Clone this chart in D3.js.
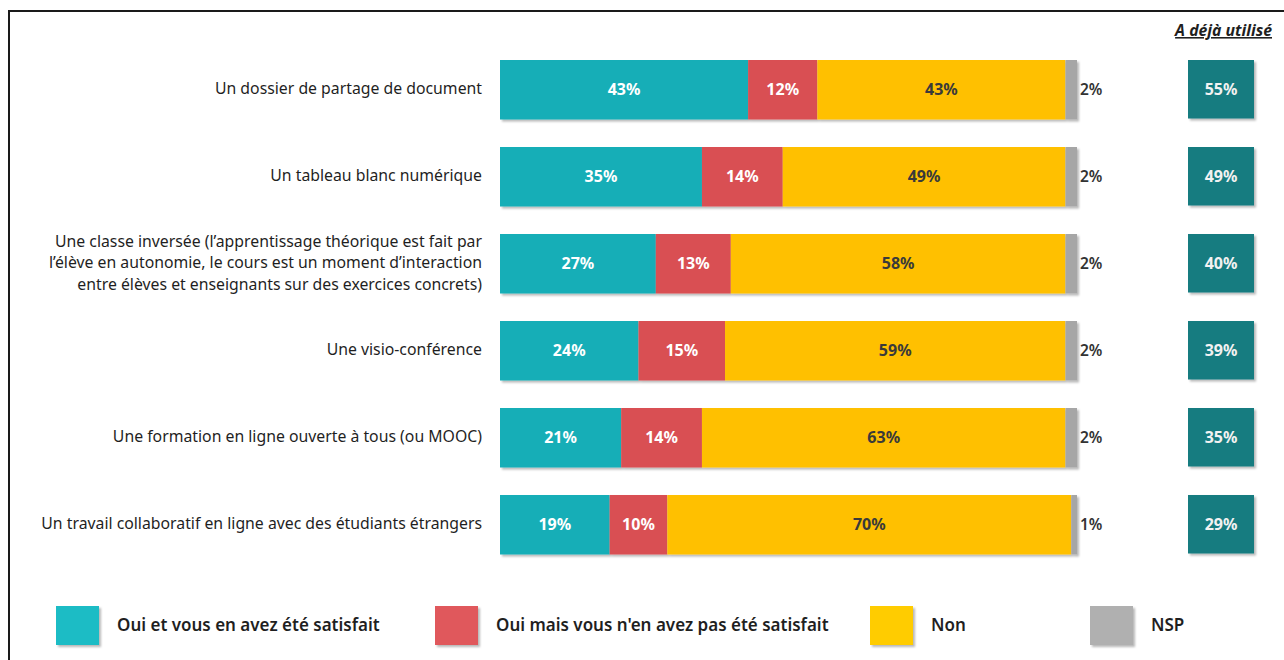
<!DOCTYPE html>
<html>
<head>
<meta charset="utf-8">
<script src="https://cdn.jsdelivr.net/npm/d3@7.8.5/dist/d3.min.js"></script>
<style>
  html, body { margin: 0; padding: 0; background: #fff; }
  svg { display: block; font-family: 'Noto Sans', 'Open Sans', sans-serif; }
</style>
</head>
<body>
<svg id="chart" width="1284" height="660"></svg>
<script>
const categories = [
  ['Un dossier de partage de document'],
  ['Un tableau blanc numérique'],
  ['Une classe inversée (l’apprentissage théorique est fait par',
   'l’élève en autonomie, le cours est un moment d’interaction',
   'entre élèves et enseignants sur des exercices concrets)'],
  ['Une visio-conférence'],
  ['Une formation en ligne ouverte à tous (ou MOOC)'],
  ['Un travail collaboratif en ligne avec des étudiants étrangers']
];
const satisfied   = [43, 35, 27, 24, 21, 19];
const unsatisfied = [12, 14, 13, 15, 14, 10];
const nonUsed     = [43, 49, 58, 59, 63, 70];
const nsp         = [2, 2, 2, 2, 2, 1];
const alreadyUsed = [55, 49, 40, 39, 35, 29];

const seriesNames = ['Oui et vous en avez été satisfait', "Oui mais vous n'en avez pas été satisfait", 'Non', 'NSP'];
const barColors = ['#14aeb7', '#d94f53', '#ffc000', '#a6a6a6'];
const legendColors = ['#1bbcc5', '#e0585b', '#ffcc00', '#b0b0b0'];
const labelColors = ['#ffffff', '#ffffff', '#3a3a3a', '#3a3a3a'];

const svg = d3.select('#chart');

// drop shadow used by bars and swatches
const defs = svg.append('defs');
defs.append('filter').attr('id', 'shadow')
  .attr('x', '-10%').attr('y', '-10%').attr('width', '130%').attr('height', '140%')
  .append('feDropShadow')
  .attr('dx', 2).attr('dy', 2).attr('stdDeviation', 1.2)
  .attr('flood-color', '#000').attr('flood-opacity', 0.28);

// frame
svg.append('path')
  .attr('d', 'M9,660 V11 H1284')
  .attr('fill', 'none')
  .attr('stroke', '#1a1a1a')
  .attr('stroke-width', 2);

const x = d3.scaleLinear().domain([0, 100]).range([500, 1077]);
const y = d3.scaleBand()
  .domain(d3.range(categories.length))
  .range([60, 554.5])
  .paddingInner(0.316)
  .paddingOuter(0);

const rows = categories.map((c, i) => {
  const vals = [satisfied[i], unsatisfied[i], nonUsed[i], nsp[i]];
  let acc = 0;
  const segs = vals.map((v, k) => {
    const s = { k, v, x0: acc, x1: acc + v };
    acc += v;
    return s;
  });
  return { i, label: c, segs };
});

const rowG = svg.selectAll('.row')
  .data(rows)
  .enter()
  .append('g')
  .attr('class', 'row')
  .attr('transform', d => `translate(0,${y(d.i)})`);

const bh = y.bandwidth();

// category labels
rowG.append('text')
  .attr('text-anchor', 'end')
  .attr('fill', '#1f1f1f')
  .style('font-size', '15.8px')
  .each(function(d) {
    const n = d.label.length;
    const lh = 21.5;
    d3.select(this).selectAll('tspan')
      .data(d.label)
      .enter()
      .append('tspan')
      .attr('x', 482)
      .attr('y', (t, j) => bh / 2 + (j - (n - 1) / 2) * lh - 1)
      .attr('dy', '0.35em')
      .text(t => t);
  });

// stacked bars
const barG = rowG.append('g').attr('filter', 'url(#shadow)');
barG.selectAll('rect')
  .data(d => d.segs)
  .enter()
  .append('rect')
  .attr('x', s => x(s.x0))
  .attr('y', 0)
  .attr('width', s => x(s.x1) - x(s.x0))
  .attr('height', bh)
  .attr('fill', s => barColors[s.k]);

// values inside bars
rowG.selectAll('.val')
  .data(d => d.segs.filter(s => s.k < 3))
  .enter()
  .append('text')
  .attr('class', 'val')
  .attr('x', s => (x(s.x0) + x(s.x1)) / 2)
  .attr('y', bh / 2)
  .attr('dy', '0.35em')
  .attr('text-anchor', 'middle')
  .attr('fill', s => labelColors[s.k])
  .style('font-size', '16px')
  .style('font-weight', 'bold')
  .text(s => s.v + '%');

// NSP value outside
rowG.append('text')
  .attr('x', 1080)
  .attr('y', bh / 2)
  .attr('dy', '0.35em')
  .attr('fill', '#333')
  .style('font-size', '15.5px')
  .style('font-weight', 600)
  .text(d => d.segs[3].v + '%');

// "A déjà utilisé" boxes
svg.append('text')
  .attr('x', 1272)
  .attr('y', 36)
  .attr('text-anchor', 'end')
  .attr('fill', '#1f1f1f')
  .style('font-size', '15.8px')
  .style('font-weight', 'bold')
  .style('font-style', 'italic')
  .style('text-decoration', 'underline')
  .text('A déjà utilisé');

const boxG = rowG.append('g');
boxG.append('rect')
  .attr('x', 1188)
  .attr('y', 0)
  .attr('width', 66)
  .attr('height', bh - 1)
  .attr('fill', '#127b80')
  .attr('filter', 'url(#shadow)');
boxG.append('text')
  .attr('x', 1221)
  .attr('y', bh / 2)
  .attr('dy', '0.35em')
  .attr('text-anchor', 'middle')
  .attr('fill', '#f2f2f2')
  .style('font-size', '16px')
  .style('font-weight', 'bold')
  .text(d => alreadyUsed[d.i] + '%');

// legend
const legendX = [56, 435, 870, 1090];
const leg = svg.selectAll('.legend')
  .data(seriesNames)
  .enter()
  .append('g')
  .attr('class', 'legend')
  .attr('transform', (d, i) => `translate(${legendX[i]},606)`);
leg.append('rect')
  .attr('width', 43)
  .attr('height', 39)
  .attr('fill', (d, i) => legendColors[i])
  .attr('filter', 'url(#shadow)');
leg.append('text')
  .attr('x', 61)
  .attr('y', 19)
  .attr('dy', '0.35em')
  .attr('fill', '#1f1f1f')
  .style('font-size', '17px')
  .style('font-weight', 600)
  .text(d => d);
</script>
</body>
</html>
